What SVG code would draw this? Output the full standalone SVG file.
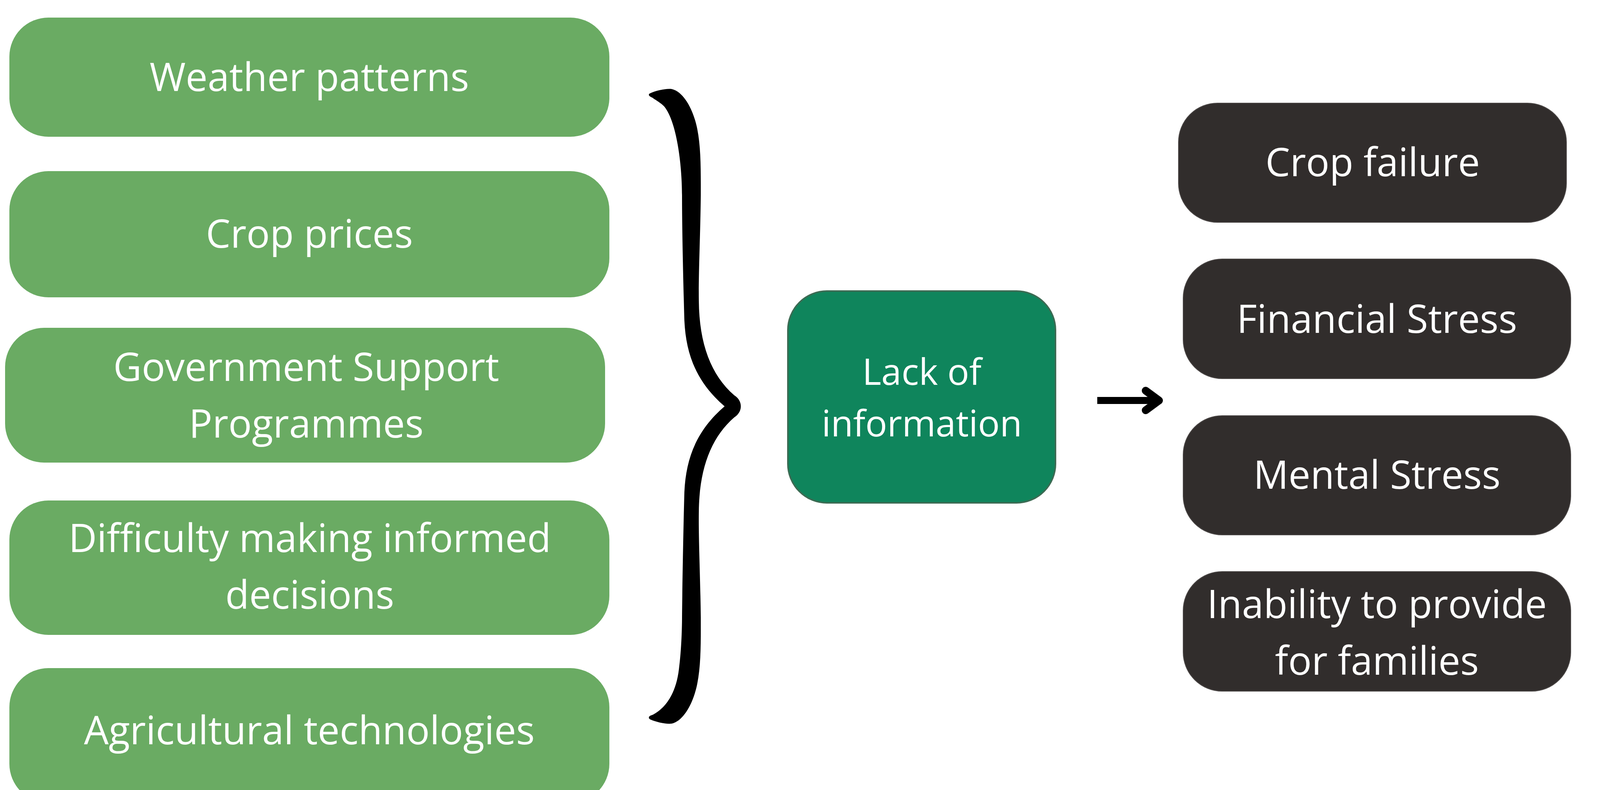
<svg xmlns="http://www.w3.org/2000/svg" width="5102" height="2022" viewBox="0 0 5102 2022">
<style>
.lg{fill:#6aab63;}
.dg{fill:#0f855c;stroke:#3b6b53;stroke-width:4;}
.dk{fill:#312d2c;stroke:#4a4645;stroke-width:2;}
.t{font-family:"Open Sans","DejaVu Sans",sans-serif;font-size:100px;fill:#ffffff;text-anchor:middle;}
.t2{font-family:"Open Sans","DejaVu Sans",sans-serif;font-size:93px;fill:#ffffff;text-anchor:middle;}
.shaft{stroke:#000;stroke-width:18;fill:none;}
</style>
<defs>
<marker id="head" viewBox="0 0 70 80" refX="42" refY="40" markerWidth="70" markerHeight="80" markerUnits="userSpaceOnUse" orient="auto" overflow="visible">
<path d="M16 15 L50 40 L16 65" fill="none" stroke="#000" stroke-width="20" stroke-linecap="round" stroke-linejoin="round"/>
</marker>
</defs>
<rect width="5102" height="2022" fill="#ffffff"/>
<g id="weather"><rect class="lg" x="24" y="45" width="1536" height="305" rx="100"/><text class="t" x="792" y="233">Weather patterns</text></g>
<g id="crop-prices"><rect class="lg" x="24" y="438" width="1536" height="323" rx="100"/><text class="t" x="792" y="634">Crop prices</text></g>
<g id="gov-support"><rect class="lg" x="13" y="839" width="1536" height="345" rx="100"/><text class="t" x="784" y="975">Government Support</text><text class="t" x="784" y="1120">Programmes</text></g>
<g id="difficulty"><rect class="lg" x="24" y="1281" width="1536" height="344" rx="100"/><text class="t" x="793" y="1413">Difficulty making informed</text><text class="t" x="793" y="1558">decisions</text></g>
<g id="agri-tech"><rect class="lg" x="24" y="1710" width="1536" height="345" rx="100"/><text class="t" x="792" y="1905">Agricultural technologies</text></g>
<g id="brace">
<path fill="#000" d="M1666,238 C1680,232 1705,226 1720,228 C1750,235 1775,280 1785,330 C1795,380 1794,440 1794,500 C1793,600 1788,700 1789,770 C1790,880 1820,960 1880,1012 C1902,1026 1902,1054 1880,1068 C1820,1120 1790,1200 1789,1310 C1788,1380 1793,1480 1794,1580 C1794,1640 1795,1700 1785,1750 C1775,1800 1750,1845 1720,1852 C1705,1854 1680,1848 1666,1842 C1658,1839 1660,1832 1670,1830 C1700,1815 1730,1780 1738,1713 C1745,1660 1746,1600 1746,1580 C1747,1480 1750,1330 1752,1260 C1756,1170 1785,1100 1855,1040 C1785,980 1756,910 1752,820 C1750,750 1746,600 1746,500 C1746,420 1732,310 1700,272 C1690,262 1678,256 1670,250 C1660,246 1658,241 1666,238 Z"/>
</g>
<g id="lack-info"><rect class="dg" x="2017" y="745" width="685" height="542" rx="100"/><text class="t2" x="2360" y="985">Lack of</text><text class="t2" x="2360" y="1117">information</text></g>
<g id="crop-failure"><rect class="dk" x="3017" y="264" width="993" height="305" rx="100"/><text class="t" x="3514" y="451">Crop failure</text></g>
<g id="financial-stress"><rect class="dk" x="3029" y="663" width="992" height="306" rx="100"/><text class="t" x="3525" y="852">Financial Stress</text></g>
<g id="mental-stress"><rect class="dk" x="3029" y="1064" width="992" height="305" rx="100"/><text class="t" x="3525" y="1251">Mental Stress</text></g>
<g id="inability"><rect class="dk" x="3029" y="1463" width="992" height="306" rx="100"/><text class="t" x="3525" y="1582">Inability to provide</text><text class="t" x="3525" y="1727">for families</text></g>
<g id="cycle-debt"><rect class="dg" x="4384" y="766" width="684" height="542" rx="100"/><text class="t2" x="4728" y="1007">Cycle of</text><text class="t2" x="4728" y="1138">DEBT</text></g>
<g id="connectors">
<line class="shaft" x1="2809" y1="1025" x2="2959" y2="1025" marker-end="url(#head)"/>
<line class="shaft" x1="4142" y1="1046" x2="4291" y2="1046" marker-end="url(#head)"/>
</g>
</svg>
